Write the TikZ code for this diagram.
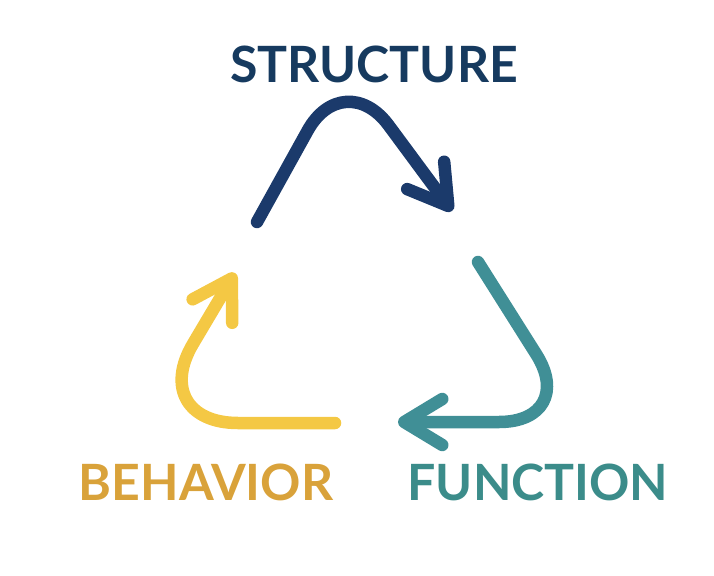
\documentclass[tikz,border=0pt]{standalone}
\usepackage{fontspec}
\setmainfont{Lato}
\usetikzlibrary{arrows.meta}
\definecolor{navy}{HTML}{1B3A6B}
\definecolor{navytext}{HTML}{163A5F}
\definecolor{sun}{HTML}{F4C844}
\definecolor{suntext}{HTML}{D9A23A}
\definecolor{teal}{HTML}{408F96}
\definecolor{tealtext}{HTML}{3B8C8A}

\begin{document}
\begin{tikzpicture}[x=1pt, y=-1pt,
  >={Straight Barb[round, length=38pt, width=46pt]},
  lbl/.style={anchor=base, inner sep=0pt, font=\fontsize{50}{50}\selectfont\bfseries},
  cyc/.style={line width=12.5pt, line cap=round, line join=round}]
  \useasboundingbox (0,0) rectangle (714,575);
  % labels, baselines
  \node[lbl, text=navytext] (struct) at (374,83) {STRUCTURE};
  \node[lbl, text=suntext] (behav) at (206,500) {BEHAVIOR};
  \node[lbl, text=tealtext] (func) at (538,500) {FUNCTION};
  % corners of the three bent arrows
  \coordinate (s0) at (257,222); \coordinate (sc) at (344,65);  \coordinate (s1) at (452,211);
  \coordinate (f0) at (478,262); \coordinate (fc) at (579,422); \coordinate (f1) at (398,422);
  \coordinate (b0) at (335,423); \coordinate (bc) at (146,423); \coordinate (b1) at (235,273);
  \draw[cyc, navy, ->, rounded corners=75pt] (s0) -- (sc) -- (s1);
  \draw[cyc, teal, ->, rounded corners=80pt] (f0) -- (fc) -- (f1);
  \draw[cyc, sun, ->, rounded corners=92pt] (b0) -- (bc) -- (b1);
\end{tikzpicture}
\end{document}
